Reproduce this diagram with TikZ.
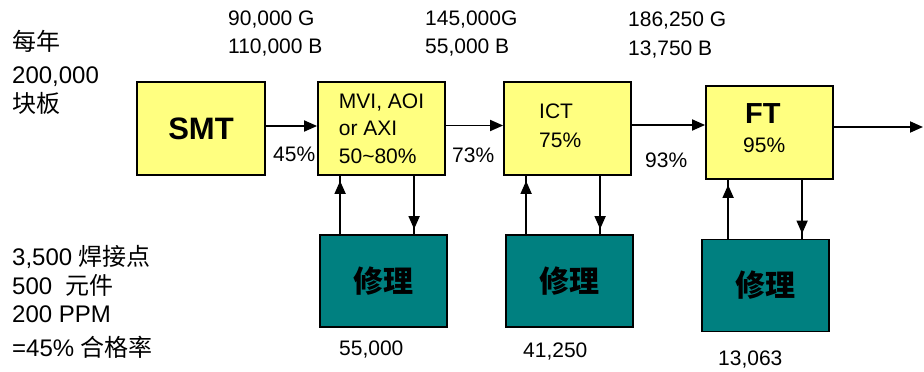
\documentclass[tikz,border=0pt]{standalone}
\usepackage{fontspec}
\setmainfont{Liberation Sans}
\newfontfamily\cjk{Noto Sans CJK SC}
\usetikzlibrary{arrows.meta,calc}
\definecolor{boxyellow}{RGB}{255,255,128}
\definecolor{repairteal}{RGB}{0,128,128}
\begin{document}
\begin{tikzpicture}[x=1pt,y=-1pt,
  stage/.style={draw=black, line width=1.8pt, fill=boxyellow, minimum width=127pt, minimum height=93pt, inner sep=0pt},
  repair/.style={draw=black, line width=1.8pt, fill=repairteal, minimum width=127pt, minimum height=92pt, inner sep=0pt, font=\cjk\bfseries\fontsize{30}{30}\selectfont},
  lbl/.style={anchor=base west, inner sep=0pt, font=\fontsize{21}{21}\selectfont},
  side/.style={anchor=base west, inner sep=0pt, font=\fontsize{24}{24}\selectfont},
  flow/.style={line width=1.8pt, -{Triangle[length=13pt,width=11pt]}},
  midflow/.style={line width=1.8pt, postaction={draw, line width=1.8pt, -{Triangle[length=13pt,width=11pt]}, shorten >=5pt}}
]
\useasboundingbox (0,0) rectangle (924,372);

% stage boxes
\node[stage, minimum width=128pt, font=\bfseries\fontsize{31}{31}\selectfont] (smt) at (201,128.5) {SMT};
\node[stage, align=left, font=\fontsize{21}{27.5}\selectfont] (mvi) at (381.5,128.5) {MVI, AOI\\or AXI\\50\textasciitilde80\%};
\node[stage] (ict) at (567.5,128.5) {};
\node[lbl] (ictT) at (539,118) {ICT};
\node[lbl] (ictP) at (539,147) {75\%};
\node[stage] (ft) at (769.5,132.5) {};
\node[lbl, font=\bfseries\fontsize{29}{29}\selectfont] (ftT) at (745,123) {FT};
\node[lbl] (ftP) at (743,152) {95\%};

% repair boxes
\node[repair] (r1) at (383.5,281) {修理};
\node[repair] (r2) at (569.5,281) {修理};
\node[repair] (r3) at (765.5,285.5) {修理};

% main flow
\coordinate (out) at (923,127);
\draw[flow] ([yshift=2.5pt]smt.east) -- ([yshift=2.5pt]smt.east -| mvi.west);
\draw[flow] ([yshift=3pt]mvi.east) -- ([yshift=3pt]mvi.east -| ict.west);
\draw[flow] ([yshift=3.5pt]ict.east) -- ([yshift=3.5pt]ict.east -| ft.west);
\draw[flow] ([yshift=5.5pt]ft.east) -- (out);

% repair loops
\draw[midflow] ([xshift=21pt]r1.north west) -- ([xshift=21pt]r1.north west |- mvi.south);
\draw[midflow] ([xshift=95pt]r1.north west |- mvi.south) -- ([xshift=95pt]r1.north west);
\draw[midflow] ([xshift=21pt]r2.north west) -- ([xshift=21pt]r2.north west |- ict.south);
\draw[midflow] ([xshift=95pt]r2.north west |- ict.south) -- ([xshift=95pt]r2.north west);
\draw[midflow] ([xshift=27pt]r3.north west) -- ([xshift=27pt]r3.north west |- ft.south);
\draw[midflow] ([xshift=101pt]r3.north west |- ft.south) -- ([xshift=101pt]r3.north west);

% top counts
\node[lbl] (g1) at (228,25) {90,000 G};
\node[lbl] (b1) at (228,53) {110,000 B};
\node[lbl] (g2) at (425,25) {145,000G};
\node[lbl] (b2) at (425,53) {55,000 B};
\node[lbl] (g3) at (628,27) {186,250 G};
\node[lbl] (b3) at (628,55) {13,750 B};

% yields
\node[lbl] (p1) at (273,161) {45\%};
\node[lbl] (p2) at (452,162) {73\%};
\node[lbl] (p3) at (645,167) {93\%};

% repair counts
\node[lbl] (n1) at (339,355) {55,000};
\node[lbl] (n2) at (523,357) {41,250};
\node[lbl] (n3) at (718,365) {13,063};

% side notes
\node[side] (s1) at (12,50) {\cjk 每年};
\node[side] (s2) at (12,83) {200,000};
\node[side] (s3) at (12,112) {\cjk 块板};
\node[side] (s4) at (12,265) {3,500 {\cjk 焊接点}};
\node[side] (s5) at (12,294) {500\ \ {\cjk 元件}};
\node[side] (s6) at (12,322) {200 PPM};
\node[side] (s7) at (12,356) {=45\% {\cjk 合格率}};
\end{tikzpicture}
\end{document}
